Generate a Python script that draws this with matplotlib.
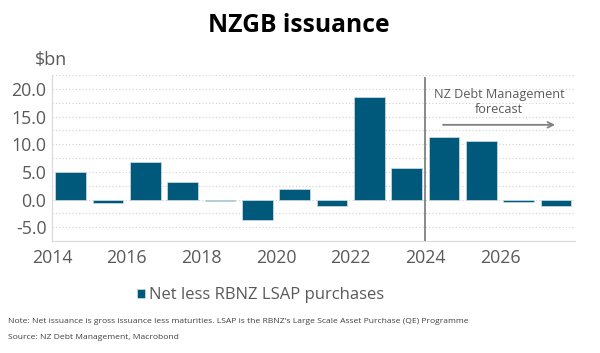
import matplotlib.pyplot as plt
import numpy as np

plt.rcParams['font.family'] = ['Open Sans', 'DejaVu Sans']

years = [2014, 2015, 2016, 2017, 2018, 2019, 2020, 2021, 2022, 2023, 2024, 2025, 2026, 2027]
net_issuance = [5.0, -0.7, 6.8, 3.1, -0.2, -3.7, 1.9, -1.1, 18.6, 5.7, 11.3, 10.5, -0.35, -1.15]
series_label = 'Net less RBNZ LSAP purchases'
bar_color = '#00587a'
grey = '#595959'

fig = plt.figure(figsize=(6, 3.53), dpi=100)
ax = fig.add_axes([0.0867, 0.317, 0.871, 0.4705])

x = np.array(years) + 0.5
ax.bar(x, net_issuance, width=0.82, color=bar_color, edgecolor='#cfe0e8', linewidth=0.5,
       label=series_label, zorder=3)

ax.set_xlim(2014, 2028)
ax.set_ylim(-7.5, 22.5)
ax.set_xticks(np.arange(2014, 2028, 2))
ax.set_yticks(np.arange(-5, 22.5, 5))
ax.set_yticks(np.arange(-7.5, 22.6, 2.5), minor=True)
ax.yaxis.set_major_formatter(plt.FuncFormatter(lambda v, p: f'{v:.1f}'))
ax.grid(axis='y', which='both', linestyle=(0, (1, 2)), color='#d0d0d0', linewidth=0.8, zorder=0)
ax.tick_params(which='both', length=0, labelsize=12.8, colors=grey, pad=4)
ax.tick_params(axis='x', pad=6)
for s in ['top', 'right']:
    ax.spines[s].set_visible(False)
for s in ['left', 'bottom']:
    ax.spines[s].set_color('#d9d9d9')

ax.axvline(2024, color='#808080', linewidth=1.3, ymax=0.98, zorder=4)
ax.annotate('', xy=(2027.55, 13.5), xytext=(2024.4, 13.5),
            arrowprops=dict(arrowstyle='->', color='#808080', lw=1.3))
ax.text(2025.97, 17.6, 'NZ Debt Management\nforecast', ha='center', va='center',
        fontsize=9.1, color=grey, linespacing=1.15)

fig.text(0.498, 0.929, 'NZGB issuance', ha='center', va='center', fontsize=17.7,
         fontweight='bold', color='black')
fig.text(0.058, 0.83, '$bn', ha='left', va='center', fontsize=13, color=grey)

leg = fig.legend(loc='center', bbox_to_anchor=(0.434, 0.163), frameon=False, fontsize=12,
                 handlelength=0.5, handleheight=0.5, handletextpad=0.2, labelcolor=grey)

fig.text(0.013, 0.088, 'Note: Net issuance is gross issuance less maturities. LSAP is the RBNZ\'s Large Scale Asset Purchase (QE) Programme',
         ha='left', va='center', fontsize=6.1, color='#404040')
fig.text(0.013, 0.045, 'Source: NZ Debt Management, Macrobond',
         ha='left', va='center', fontsize=6.1, color='#404040')

fig.savefig('out.png', dpi=100)
